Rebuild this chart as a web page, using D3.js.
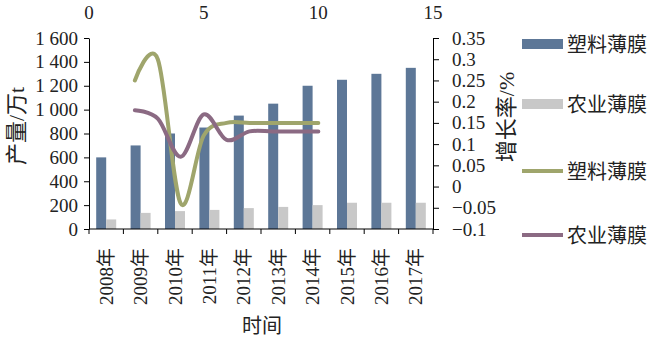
<!DOCTYPE html>
<html>
<head>
<meta charset="utf-8">
<script src="https://cdn.jsdelivr.net/npm/d3@7/dist/d3.min.js"></script>
<style>
  html, body { margin: 0; padding: 0; background: #fff; }
  svg { display: block; }
  text { font-family: "Liberation Serif", "Noto Sans CJK SC", serif; fill: #222; }
</style>
</head>
<body>
<svg id="chart" width="660" height="341"></svg>
<script>
// ---- data ----
const years = ["2008年","2009年","2010年","2011年","2012年","2013年","2014年","2015年","2016年","2017年"];
const plasticFilm = [600, 700, 800, 850, 950, 1050, 1200, 1250, 1300, 1350];
const agriFilm = [80, 135, 150, 160, 175, 185, 200, 220, 220, 220];
// growth rates (2009-2017), plotted against the secondary (top) x axis
const growthX = [2, 3, 4, 5, 6, 7, 8, 9, 10];
const plasticGrowth = [0.25, 0.30, -0.04, 0.12, 0.15, 0.15, 0.15, 0.15, 0.15];
const agriGrowth = [0.18, 0.16, 0.07, 0.17, 0.11, 0.13, 0.13, 0.13, 0.13];
const leftTicks = [0, 200, 400, 600, 800, 1000, 1200, 1400, 1600];
const leftTickLabels = ["0", "200", "400", "600", "800", "1 000", "1 200", "1 400", "1 600"];
const rightTicks = [-0.1, -0.05, 0, 0.05, 0.1, 0.15, 0.2, 0.25, 0.3, 0.35];
const rightTickLabels = ["\u22120.1", "\u22120.05", "0", "0.05", "0.1", "0.15", "0.2", "0.25", "0.3", "0.35"];
const topTicks = [0, 5, 10, 15];
const seriesNames = ["塑料薄膜", "农业薄膜"];

// ---- layout ----
const svg = d3.select("#chart");
const L = 89, R = 433, T = 38, B = 229;
const colors = { blue: "#5d7797", gray: "#c8c8c8", green: "#9fa56c", purple: "#8b6a83" };

const x = d3.scaleBand().domain(years).range([L, R]).paddingInner(0).paddingOuter(0);
const x1 = d3.scaleBand().domain(["a", "b"]).range([0, x.bandwidth()]).paddingInner(0).paddingOuter(0.72);
const yL = d3.scaleLinear().domain([0, 1600]).range([B, T]);
const yR = d3.scaleLinear().domain([-0.1, 0.35]).range([B, T]);
const xTop = d3.scaleLinear().domain([0, 15]).range([L, R]);

// bars
const g = svg.append("g");
g.selectAll(".barA").data(years).join("rect")
  .attr("x", d => x(d) + x1("a")).attr("width", x1.bandwidth())
  .attr("y", (d, i) => yL(plasticFilm[i])).attr("height", (d, i) => yL(0) - yL(plasticFilm[i]))
  .attr("fill", colors.blue);
g.selectAll(".barB").data(years).join("rect")
  .attr("x", d => x(d) + x1("b")).attr("width", x1.bandwidth())
  .attr("y", (d, i) => yL(agriFilm[i])).attr("height", (d, i) => yL(0) - yL(agriFilm[i]))
  .attr("fill", colors.gray);

// lines
const line = (vals) => d3.line()
  .x((d, i) => xTop(growthX[i])).y(d => yR(d))
  .curve(d3.curveCardinal.tension(0))(vals);
svg.append("path").attr("d", line(plasticGrowth)).attr("fill", "none")
  .attr("stroke", colors.green).attr("stroke-width", 4).attr("stroke-linecap", "round");
svg.append("path").attr("d", line(agriGrowth)).attr("fill", "none")
  .attr("stroke", colors.purple).attr("stroke-width", 4).attr("stroke-linecap", "round");

// left axis
const axL = svg.append("g").attr("transform", `translate(${L},0)`)
  .call(d3.axisLeft(yL).tickValues(leftTicks).tickSize(5).tickSizeOuter(0).tickPadding(6)
    .tickFormat((d, i) => leftTickLabels[i]));
axL.selectAll("text").style("font-size", "19px");

// right axis
const axR = svg.append("g").attr("transform", `translate(${R},0)`)
  .call(d3.axisRight(yR).tickValues(rightTicks).tickSize(6).tickSizeOuter(0).tickPadding(13)
    .tickFormat((d, i) => rightTickLabels[i]));
axR.selectAll("text").style("font-size", "19px");

// bottom axis (category boundaries)
const bottom = svg.append("g");
bottom.append("line").attr("x1", L).attr("x2", R).attr("y1", B).attr("y2", B).attr("stroke", "#000");
const bounds = years.map(d => x(d)).concat([R]);
bottom.selectAll(".bt").data(bounds).join("line")
  .attr("x1", d => d).attr("x2", d => d).attr("y1", B).attr("y2", B + 5).attr("stroke", "#000");
bottom.selectAll(".bl").data(years).join("text")
  .attr("transform", d => `translate(${x(d) + x.bandwidth() / 2},248) rotate(-90)`)
  .attr("text-anchor", "end").attr("dy", "0.35em")
  .style("font-size", "19px").text(d => d);

// top axis labels
svg.selectAll(".tt").data(topTicks).join("text")
  .attr("x", d => xTop(d)).attr("y", 12).attr("dy", "0.35em").attr("text-anchor", "middle")
  .style("font-size", "19px").text(d => d);

// axis titles
svg.append("text").attr("transform", "translate(16,126) rotate(-90)")
  .attr("text-anchor", "middle").attr("dy", "0.35em").style("font-size", "22px").text("产量/万t");
svg.append("text").attr("transform", "translate(506,117) rotate(-90)")
  .attr("text-anchor", "middle").attr("dy", "0.35em").style("font-size", "22px").text("增长率/%");
svg.append("text").attr("x", 262).attr("y", 326).attr("dy", "0.35em")
  .attr("text-anchor", "middle").style("font-size", "20px").text("时间");

// legend
const lg = svg.append("g");
const lgItems = [
  { type: "rect", color: colors.blue, y: 44, label: seriesNames[0] },
  { type: "rect", color: colors.gray, y: 104, label: seriesNames[1] },
  { type: "line", color: colors.green, y: 171, label: seriesNames[0] },
  { type: "line", color: colors.purple, y: 235, label: seriesNames[1] }
];
lgItems.forEach(it => {
  if (it.type === "rect") {
    lg.append("rect").attr("x", 522).attr("y", it.y - 5).attr("width", 41).attr("height", 10).attr("fill", it.color);
  } else {
    lg.append("line").attr("x1", 522).attr("x2", 563).attr("y1", it.y).attr("y2", it.y)
      .attr("stroke", it.color).attr("stroke-width", 4);
  }
  lg.append("text").attr("x", 567).attr("y", it.y + 1).attr("dy", "0.35em")
    .style("font-size", "20px").text(it.label);
});
</script>
</body>
</html>
